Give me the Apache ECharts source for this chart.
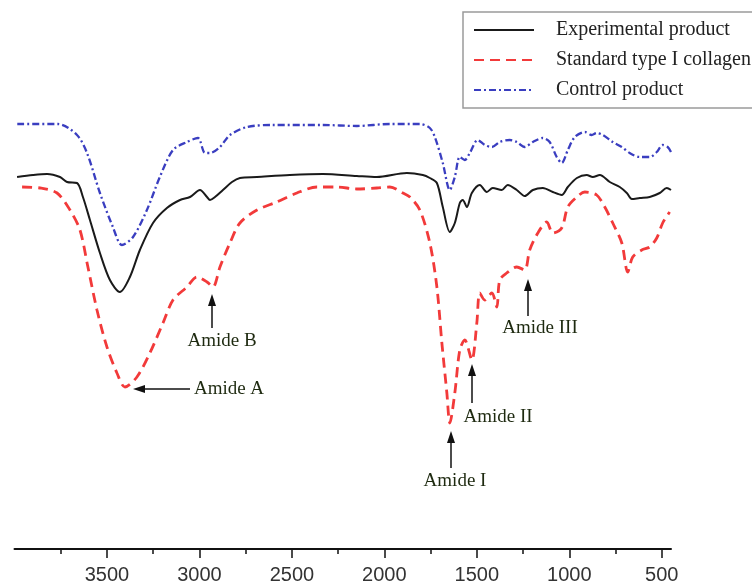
<!DOCTYPE html>
<html>
<head>
<meta charset="utf-8">
<script src="https://cdn.jsdelivr.net/npm/echarts@6/dist/echarts.min.js"></script>
<style>
  html, body { margin: 0; padding: 0; background: #fff; }
  #chart { width: 752px; height: 586px; }
</style>
</head>
<body>
<div id="chart"></div>
<script>
// wavenumber (cm-1) and transmittance (arbitrary units)
var expWn = [3986, 3900, 3824, 3754, 3716, 3662, 3630, 3592, 3538, 3484, 3430, 3376, 3322, 3251, 3176, 3105, 3051, 2997, 2959, 2943, 2916, 2873, 2824, 2781, 2689, 2511, 2332, 2149, 2041, 1878, 1792, 1754, 1716, 1684, 1646, 1619, 1592, 1576, 1554, 1527, 1484, 1446, 1414, 1365, 1333, 1284, 1241, 1197, 1143, 1089, 1041, 1008, 959, 906, 873, 835, 781, 727, 689, 662, 619, 565, 511, 473, 450];
var expT = [74.4, 74.8, 75.0, 74.4, 73.4, 73.2, 70.4, 65.8, 59.2, 53.8, 51.4, 54.4, 59.8, 65.2, 68.2, 69.8, 70.4, 71.8, 70.4, 69.8, 70.4, 71.8, 73.4, 74.2, 74.4, 74.8, 75.0, 74.6, 74.4, 75.2, 74.8, 74.2, 73.2, 68.4, 63.4, 65.2, 69.2, 69.8, 68.4, 71.2, 72.8, 71.4, 72.2, 71.8, 72.8, 71.8, 70.6, 71.8, 72.2, 71.4, 70.8, 72.4, 74.2, 74.8, 74.4, 74.8, 73.4, 72.4, 71.2, 70.0, 70.2, 70.4, 71.2, 72.2, 71.8];

var stdWn = [3959, 3862, 3770, 3700, 3646, 3603, 3554, 3500, 3446, 3403, 3338, 3268, 3197, 3143, 3068, 3014, 2959, 2927, 2889, 2835, 2781, 2689, 2581, 2473, 2365, 2257, 2149, 2041, 1970, 1900, 1862, 1808, 1754, 1716, 1689, 1662, 1646, 1619, 1592, 1565, 1527, 1500, 1484, 1457, 1419, 1392, 1376, 1338, 1284, 1241, 1214, 1170, 1122, 1089, 1041, 1008, 959, 916, 852, 808, 765, 716, 684, 657, 608, 565, 527, 495, 457];
var stdT = [72.4, 72.2, 71.2, 67.8, 63.8, 56.4, 47.8, 40.4, 35.2, 32.4, 34.4, 39.2, 45.2, 49.8, 52.4, 54.4, 53.4, 52.4, 56.4, 61.2, 65.2, 67.8, 69.4, 71.2, 72.4, 72.4, 72.0, 72.2, 72.4, 71.2, 70.4, 67.8, 61.2, 52.4, 41.2, 31.2, 25.2, 31.2, 39.8, 41.8, 37.8, 45.2, 51.2, 49.8, 51.2, 48.4, 53.8, 55.2, 56.4, 55.8, 59.8, 63.2, 65.4, 63.2, 64.2, 68.4, 70.4, 71.4, 70.8, 68.4, 65.2, 61.2, 55.4, 58.4, 59.8, 60.4, 62.2, 65.2, 67.4];

var ctrlWn = [3985, 3765, 3662, 3608, 3538, 3468, 3419, 3359, 3284, 3214, 3143, 3068, 3008, 2970, 2943, 2889, 2835, 2743, 2603, 2332, 2149, 1970, 1808, 1754, 1727, 1684, 1646, 1619, 1592, 1565, 1538, 1495, 1457, 1419, 1376, 1322, 1284, 1241, 1197, 1143, 1106, 1068, 1041, 1008, 970, 916, 879, 852, 819, 765, 716, 673, 619, 565, 527, 495, 468, 450];
var ctrlT = [85.0, 85.0, 82.8, 79.2, 71.2, 64.4, 60.8, 62.4, 67.8, 74.4, 79.8, 81.4, 82.2, 79.2, 79.2, 80.4, 82.8, 84.4, 84.8, 84.8, 84.6, 85.0, 85.0, 84.2, 82.4, 77.2, 71.8, 74.4, 78.4, 77.8, 79.2, 81.8, 80.8, 80.4, 81.4, 81.8, 81.4, 80.4, 81.4, 82.2, 81.4, 78.4, 77.2, 79.8, 82.4, 83.4, 82.8, 83.2, 82.8, 81.4, 80.4, 79.2, 78.4, 78.4, 79.4, 80.8, 80.4, 79.4];

var seriesNames = ['Experimental product', 'Standard type I collagen', 'Control product'];
var majorTicks = [3500, 3000, 2500, 2000, 1500, 1000, 500];
var minorTicks = [3750, 3250, 2750, 2250, 1750, 1250, 750];

function pairs(xs, ys) {
  var out = [];
  for (var i = 0; i < xs.length; i++) out.push([xs[i], ys[i]]);
  return out;
}

// arrow drawn as a line plus a filled head at (x2, y2)
function arrow(x1, y1, x2, y2) {
  var a = Math.atan2(y2 - y1, x2 - x1);
  var len = 12, half = 4;
  var bx = x2 - len * Math.cos(a), by = y2 - len * Math.sin(a);
  return [
    { type: 'line', shape: { x1: x1, y1: y1, x2: bx, y2: by }, style: { stroke: '#111', lineWidth: 1.5 } },
    { type: 'polygon', shape: { points: [[x2, y2], [bx - half * Math.sin(a), by + half * Math.cos(a)], [bx + half * Math.sin(a), by - half * Math.cos(a)]] }, style: { fill: '#111' } }
  ];
}

function label(text, x, y) {
  return { type: 'text', x: x, y: y, style: { text: text, font: '19px "Liberation Serif", "Times New Roman", serif', fill: '#1e2a10', align: 'center', verticalAlign: 'middle' } };
}

var annotations = [].concat(
  arrow(190, 389, 133, 389), [label('Amide A', 229, 389)],
  arrow(212, 328, 212, 294), [label('Amide B', 222, 341)],
  arrow(451, 468, 451, 431), [label('Amide I', 455, 481)],
  arrow(472, 403, 472, 364), [label('Amide II', 498, 417)],
  arrow(528, 316, 528, 279), [label('Amide III', 540, 328)]
);

var myChart = echarts.init(document.getElementById('chart'));
var option = {
  animation: false,
  backgroundColor: '#fff',
  grid: { left: 14.5, right: 81, top: 49, bottom: 37 },
  legend: {
    orient: 'vertical',
    left: 473,
    top: 18,
    padding: 0,
    itemWidth: 60,
    itemHeight: 14,
    itemGap: 6,
    data: seriesNames,
    itemStyle: { opacity: 0 },
    textStyle: { fontFamily: '"Liberation Serif", "Times New Roman", serif', fontSize: 20, color: '#222', padding: [0, 0, 0, 17], lineHeight: 24 }
  },
  xAxis: [
    {
      type: 'value', min: 450, max: 4000, inverse: true,
      axisLine: { lineStyle: { color: '#111', width: 2 } },
      axisTick: { length: 9, lineStyle: { color: '#111', width: 1.5 }, customValues: majorTicks },
      axisLabel: {
        customValues: majorTicks, margin: 16,
        formatter: function (v) { return String(v); },
        fontFamily: '"Liberation Sans", Arial, sans-serif', fontSize: 20, color: '#333'
      },
      splitLine: { show: false }
    },
    {
      type: 'value', min: 450, max: 4000, inverse: true, position: 'bottom',
      axisLine: { show: false },
      axisTick: { length: 5, lineStyle: { color: '#111', width: 1.5 }, customValues: minorTicks },
      axisLabel: { show: false },
      splitLine: { show: false }
    }
  ],
  yAxis: { type: 'value', min: 0, max: 100, show: false, splitLine: { show: false } },
  series: [
    {
      name: seriesNames[0], type: 'line', symbol: 'none', smooth: 0.3,
      data: pairs(expWn, expT),
      lineStyle: { color: '#1a1a1a', width: 2 }, itemStyle: { color: '#1a1a1a' }
    },
    {
      name: seriesNames[1], type: 'line', symbol: 'none', smooth: 0.3,
      data: pairs(stdWn, stdT),
      lineStyle: { color: '#f23a3a', width: 2.8, type: [10, 6] }, itemStyle: { color: '#f23a3a' }
    },
    {
      name: seriesNames[2], type: 'line', symbol: 'none', smooth: 0.3,
      data: pairs(ctrlWn, ctrlT),
      lineStyle: { color: '#3a3ec0', width: 2.3, type: [7, 3, 2, 3] }, itemStyle: { color: '#3a3ec0' }
    }
  ],
  graphic: [
    { type: 'rect', shape: { x: 463, y: 12, width: 310, height: 96 }, style: { fill: 'none', stroke: '#9a9a9a', lineWidth: 1.5 } }
  ].concat(annotations)
};
myChart.setOption(option);
</script>
</body>
</html>
